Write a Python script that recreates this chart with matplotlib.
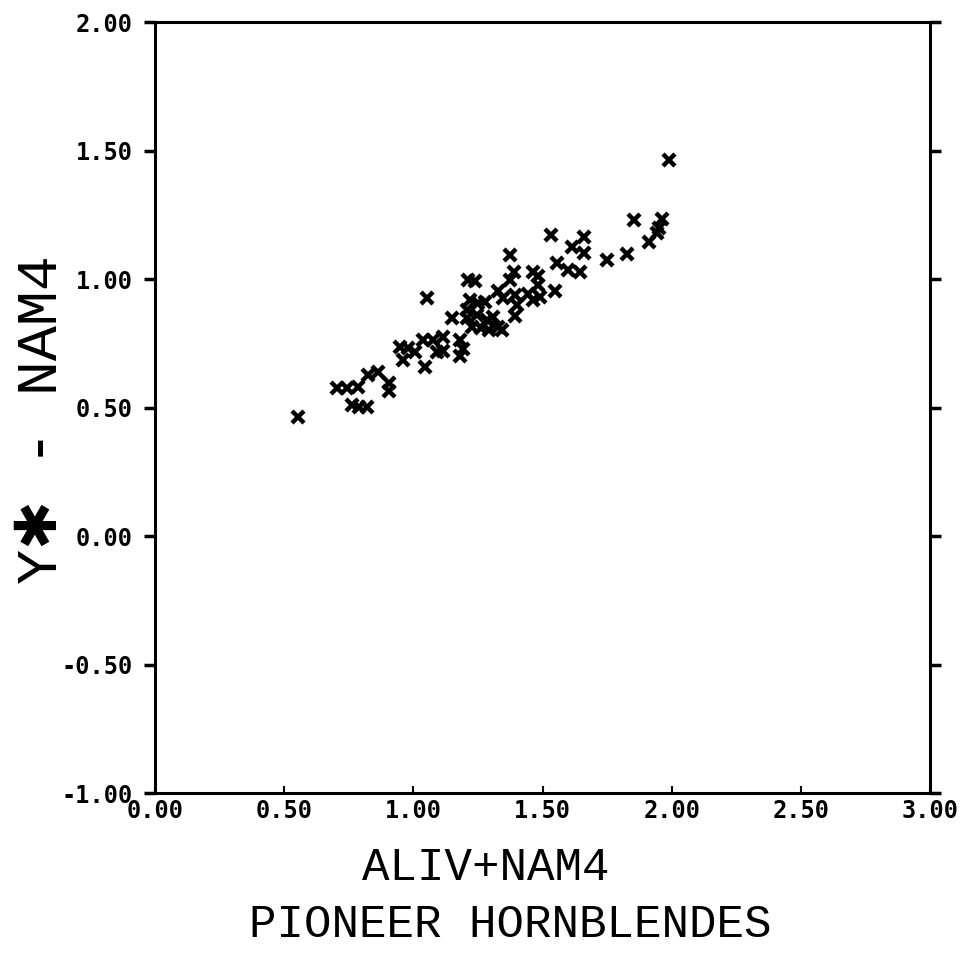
import numpy as np
import matplotlib
matplotlib.use("Agg")
import matplotlib.pyplot as plt

# ALIV+NAM4 vs Y* - NAM4, Pioneer hornblendes
aliv_nam4 = [0.554, 0.705, 0.744, 0.787, 0.764, 0.791, 0.822, 0.826, 0.864, 0.907,
             0.907, 0.961, 0.950, 0.981, 1.008, 1.047, 1.054, 1.039, 1.078, 1.093,
             1.116, 1.116, 1.151, 1.182, 1.194, 1.182, 1.213, 1.240, 1.221, 1.252,
             1.279, 1.209, 1.209, 1.248, 1.287, 1.310, 1.229, 1.260, 1.291, 1.326,
             1.345, 1.326, 1.349, 1.376, 1.391, 1.376, 1.465, 1.484, 1.481, 1.442,
             1.492, 1.465, 1.395, 1.403, 1.395, 1.531, 1.659, 1.659, 1.616, 1.558,
             1.597, 1.647, 1.550, 1.748, 1.829, 1.853, 1.961, 1.950, 1.942, 1.911,
             1.988]
ystar_nam4 = [0.463, 0.576, 0.576, 0.580, 0.510, 0.502, 0.502, 0.626, 0.638, 0.595,
              0.564, 0.685, 0.735, 0.732, 0.716, 0.658, 0.926, 0.763, 0.763, 0.716,
              0.720, 0.774, 0.848, 0.763, 0.728, 0.700, 0.996, 0.992, 0.918, 0.907,
              0.911, 0.879, 0.848, 0.860, 0.840, 0.852, 0.813, 0.809, 0.802, 0.813,
              0.802, 0.953, 0.926, 1.093, 1.027, 0.996, 1.027, 1.012, 0.977, 0.942,
              0.930, 0.918, 0.938, 0.899, 0.856, 1.171, 1.163, 1.101, 1.125, 1.062,
              1.035, 1.027, 0.953, 1.074, 1.097, 1.230, 1.233, 1.198, 1.179, 1.144,
              1.463]

x_ticks = [0.0, 0.5, 1.0, 1.5, 2.0, 2.5, 3.0]
y_ticks = [-1.0, -0.5, 0.0, 0.5, 1.0, 1.5, 2.0]

fig = plt.figure(figsize=(9.78, 9.55), dpi=100)
ax = fig.add_axes([155 / 978, 1 - 793 / 955, 775 / 978, 771 / 955])

ax.plot(aliv_nam4, ystar_nam4, linestyle='none', marker='x', color='black',
        markersize=8.5, markeredgewidth=3.2)

ax.set_xlim(0, 3)
ax.set_ylim(-1, 2)
ax.set_xticks(x_ticks)
ax.set_yticks(y_ticks)
ax.set_xticklabels([f"{v:.2f}" for v in x_ticks])
ax.set_yticklabels([f"{v:.2f}" for v in y_ticks])

tick_font = dict(family='DejaVu Sans Mono', weight='bold', size=17)
for lab in ax.get_xticklabels() + ax.get_yticklabels():
    lab.set_fontproperties(matplotlib.font_manager.FontProperties(**tick_font))

ax.tick_params(axis='y', direction='out', length=8, width=2.5, pad=8,
               right=True, labelright=False)
ax.tick_params(axis='x', direction='in', length=5, width=1.5, pad=4)

for sp in ax.spines.values():
    sp.set_linewidth(2.2)

fig.text(486 / 978, 1 - 868 / 955, "ALIV+NAM4", family='Liberation Mono',
         size=33, ha='center', va='center')
fig.text(510 / 978, 1 - 925 / 955, "PIONEER HORNBLENDES", family='Liberation Mono',
         size=33, ha='center', va='center')
fig.text(42 / 978, 1 - 420 / 955, "Y\u2731 - NAM4", family=['Liberation Mono', 'DejaVu Sans'],
         size=42, ha='center', va='center', rotation=90)

fig.savefig("out.png", dpi=100)
